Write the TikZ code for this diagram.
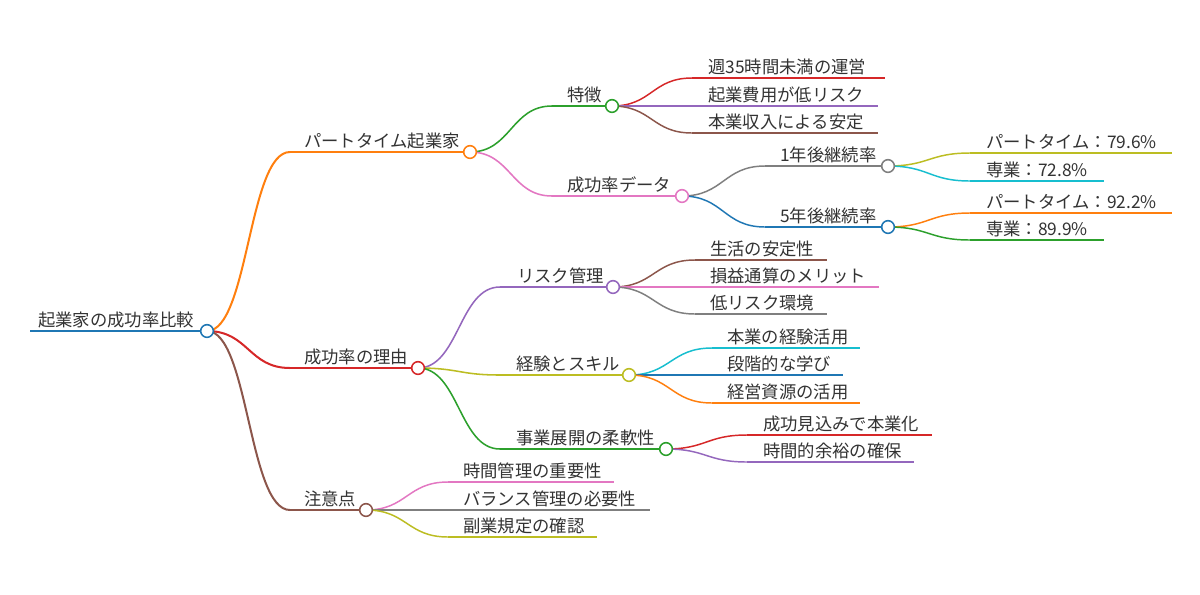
\documentclass[tikz,border=0pt]{standalone}
\usepackage{fontspec}
\setmainfont{Noto Sans CJK JP}
\usetikzlibrary{calc}
\definecolor{cblue}{HTML}{1F77B4}
\definecolor{corange}{HTML}{FF7F0E}
\definecolor{cgreen}{HTML}{2CA02C}
\definecolor{cred}{HTML}{D62728}
\definecolor{cpurple}{HTML}{9467BD}
\definecolor{cbrown}{HTML}{8C564B}
\definecolor{cpink}{HTML}{E377C2}
\definecolor{cgray}{HTML}{7F7F7F}
\definecolor{colive}{HTML}{BCBD22}
\definecolor{ccyan}{HTML}{17BECF}
\definecolor{txt}{HTML}{333333}
\tikzset{
  lbl/.style={anchor=base west,inner sep=0pt,text=txt,font=\fontsize{13pt}{15pt}\selectfont},
  w0/.style={line width=1.9pt},
  w1/.style={line width=1.5pt},
  w2/.style={line width=1.15pt},
  w3/.style={line width=1.1pt},
  link/.style={to path={let \p1=(\tikztostart), \p2=(\tikztotarget) in
     .. controls ({(\x1+\x2)/2},\y1) and ({(\x1+\x2)/2},\y2) .. (\tikztotarget)}},
  dot/.style={circle,draw=#1,fill=white,line width=1.15pt,minimum size=9.5pt,inner sep=0pt}
}
% #1 name, #2 colour, #3 width style, #4 line start x, #5 line end x, #6 y, #7 text x, #8 text
\newcommand\mmnode[8]{%
  \coordinate (#1-s) at (#4,#6);
  \coordinate (#1-e) at (#5,#6);
  \node[lbl] (#1) at (#7,#6-5) {#8};
  \draw[#2,#3] (#1-s) -- (#1-e);
}
\begin{document}
\begin{tikzpicture}[x=0.75pt,y=-0.75pt]
\useasboundingbox[fill=white] (0,0) rectangle (1200,594);

\mmnode{R}{cblue}{w0}{30}{207}{331}{38}{起業家の成功率比較}

\mmnode{A}{corange}{w1}{290}{470}{152}{304}{パートタイム起業家}
\mmnode{A1}{cgreen}{w2}{552}{612}{106}{567}{特徴}
\mmnode{A11}{cred}{w3}{692}{885}{78}{708}{週35時間未満の運営}
\mmnode{A12}{cpurple}{w3}{692}{878}{106}{708}{起業費用が低リスク}
\mmnode{A13}{cbrown}{w3}{692}{878}{133}{708}{本業収入による安定}
\mmnode{A2}{cpink}{w2}{552}{682}{196}{567}{成功率データ}
\mmnode{A21}{cgray}{w3}{765}{888}{166}{780}{1年後継続率}
\mmnode{A211}{colive}{w3}{970}{1172}{153}{986}{パートタイム：79.6\%}
\mmnode{A212}{ccyan}{w3}{970}{1104}{181}{986}{専業：72.8\%}
\mmnode{A22}{cblue}{w3}{765}{888}{227}{780}{5年後継続率}
\mmnode{A221}{corange}{w3}{970}{1172}{213}{986}{パートタイム：92.2\%}
\mmnode{A222}{cgreen}{w3}{970}{1104}{240}{986}{専業：89.9\%}

\mmnode{B}{cred}{w1}{290}{418}{368}{304}{成功率の理由}
\mmnode{B1}{cpurple}{w2}{500}{613}{287}{517}{リスク管理}
\mmnode{B11}{cbrown}{w3}{695}{827}{260}{710}{生活の安定性}
\mmnode{B12}{cpink}{w3}{695}{879}{287}{710}{損益通算のメリット}
\mmnode{B13}{cgray}{w3}{695}{827}{314}{710}{低リスク環境}
\mmnode{B2}{colive}{w2}{500}{629}{375}{516}{経験とスキル}
\mmnode{B21}{ccyan}{w3}{712}{860}{348}{727}{本業の経験活用}
\mmnode{B22}{cblue}{w3}{712}{843}{375}{727}{段階的な学び}
\mmnode{B23}{corange}{w3}{712}{860}{403}{727}{経営資源の活用}
\mmnode{B3}{cgreen}{w2}{500}{666}{449}{516}{事業展開の柔軟性}
\mmnode{B31}{cred}{w3}{747}{932}{435}{763}{成功見込みで本業化}
\mmnode{B32}{cpurple}{w3}{747}{914}{462}{763}{時間的余裕の確保}

\mmnode{C}{cbrown}{w1}{290}{366}{510}{304}{注意点}
\mmnode{C1}{cpink}{w3}{448}{614}{482}{463}{時間管理の重要性}
\mmnode{C2}{cgray}{w3}{448}{650}{510}{463}{バランス管理の必要性}
\mmnode{C3}{colive}{w3}{448}{597}{537}{463}{副業規定の確認}

% connectors
\draw[corange,w1,link] (R-e) to (A-s);
\draw[cred,w1,link] (R-e) to (B-s);
\draw[cbrown,w1,link] (R-e) to (C-s);
\draw[cgreen,w2,link] (A-e) to (A1-s);
\draw[cpink,w2,link] (A-e) to (A2-s);
\draw[cred,w3,link] (A1-e) to (A11-s);
\draw[cpurple,w3,link] (A1-e) to (A12-s);
\draw[cbrown,w3,link] (A1-e) to (A13-s);
\draw[cgray,w3,link] (A2-e) to (A21-s);
\draw[cblue,w3,link] (A2-e) to (A22-s);
\draw[colive,w3,link] (A21-e) to (A211-s);
\draw[ccyan,w3,link] (A21-e) to (A212-s);
\draw[corange,w3,link] (A22-e) to (A221-s);
\draw[cgreen,w3,link] (A22-e) to (A222-s);
\draw[cpurple,w2,link] (B-e) to (B1-s);
\draw[colive,w2,link] (B-e) to (B2-s);
\draw[cgreen,w2,link] (B-e) to (B3-s);
\draw[cbrown,w3,link] (B1-e) to (B11-s);
\draw[cpink,w3,link] (B1-e) to (B12-s);
\draw[cgray,w3,link] (B1-e) to (B13-s);
\draw[ccyan,w3,link] (B2-e) to (B21-s);
\draw[cblue,w3,link] (B2-e) to (B22-s);
\draw[corange,w3,link] (B2-e) to (B23-s);
\draw[cred,w3,link] (B3-e) to (B31-s);
\draw[cpurple,w3,link] (B3-e) to (B32-s);
\draw[cpink,w3,link] (C-e) to (C1-s);
\draw[cgray,w3,link] (C-e) to (C2-s);
\draw[colive,w3,link] (C-e) to (C3-s);

% circles on the branching points
\node[dot=cblue] (R-dot) at (R-e) {};
\node[dot=corange] (A-dot) at (A-e) {};
\node[dot=cgreen] (A1-dot) at (A1-e) {};
\node[dot=cpink] (A2-dot) at (A2-e) {};
\node[dot=cgray] (A21-dot) at (A21-e) {};
\node[dot=cblue] (A22-dot) at (A22-e) {};
\node[dot=cred] (B-dot) at (B-e) {};
\node[dot=cpurple] (B1-dot) at (B1-e) {};
\node[dot=colive] (B2-dot) at (B2-e) {};
\node[dot=cgreen] (B3-dot) at (B3-e) {};
\node[dot=cbrown] (C-dot) at (C-e) {};
\end{tikzpicture}
\end{document}
